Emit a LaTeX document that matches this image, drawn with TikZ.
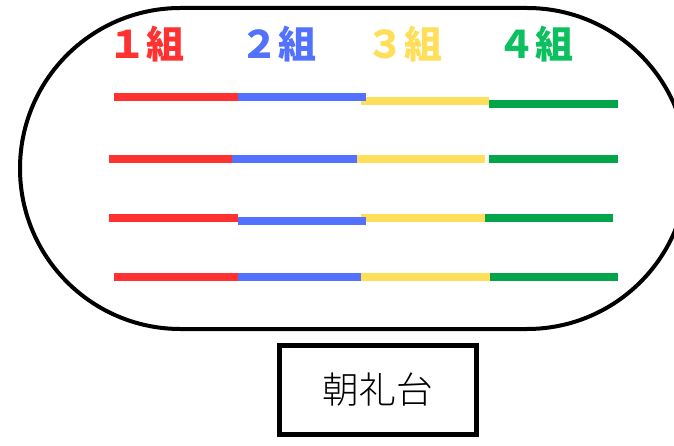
\documentclass[tikz,border=0pt]{standalone}
\usepackage{fontspec}
\newfontfamily\cjk{Noto Sans CJK JP Black}
\newfontfamily\cjklight{Noto Sans CJK JP Light}
\definecolor{cred}{HTML}{FF3131}
\definecolor{cblue}{HTML}{5271FF}
\definecolor{cyellow}{HTML}{FFDE59}
\definecolor{cgreen}{HTML}{03A54A}
\definecolor{cgreentxt}{HTML}{0CBF5F}
\tikzset{
  lane/.style={line width=8pt, line cap=butt},
  grouplabel/.style={inner sep=0pt, font=\cjk\fontsize{38}{38}\selectfont},
  track/.style={draw=black, line width=4pt, rounded corners=160.5pt},
  stand/.style={draw=black, line width=5pt, minimum width=196.8pt, minimum height=88.8pt, inner sep=0pt, font=\cjklight\fontsize{36.7}{36.7}\selectfont}
}
\begin{document}
\begin{tikzpicture}[x=1pt, y=-1pt]
\useasboundingbox (0,0) rectangle (674,446);
\clip (0,0) rectangle (674,446);
\draw[track] (20,8) rectangle (687.5,329);
% labels
\node[grouplabel, text=cred] (g1) at (146.5,44.5) {１組};
\node[grouplabel, text=cblue] (g2) at (278.5,44.5) {２組};
\node[grouplabel, text=cyellow] (g3) at (404,44.5) {３組};
\node[grouplabel, text=cgreentxt] (g4) at (535.5,44.5) {４組};
% row 1
\draw[lane, cred] (114,96.7) -- (241.7,96.7);
\draw[lane, cyellow] (361.3,101.3) -- (489.3,101.3);
\draw[lane, cblue] (237.7,97) -- (365.7,97);
\draw[lane, cgreen] (489.3,104.3) -- (618,104.3);
% row 2
\draw[lane, cred] (109.3,159) -- (232.3,159);
\draw[lane, cblue] (232.3,159) -- (356.7,159);
\draw[lane, cyellow] (356.7,159) -- (485,159);
\draw[lane, cgreen] (489.3,159) -- (618,159);
% row 3
\draw[lane, cred] (109.3,218) -- (237.7,218);
\draw[lane, cyellow] (361.3,218) -- (485,218);
\draw[lane, cblue] (237.7,220.7) -- (366,220.7);
\draw[lane, cgreen] (485,218) -- (613.3,218);
% row 4
\draw[lane, cred] (114,276.8) -- (237.7,276.8);
\draw[lane, cblue] (237.7,276.8) -- (361,276.8);
\draw[lane, cyellow] (361,276.8) -- (489.7,276.8);
\draw[lane, cgreen] (489.7,276.8) -- (617.7,276.8);
% stand
\node[stand] (podium) at (377.9,389.8) {\raisebox{-4pt}{朝礼台}};
\end{tikzpicture}
\end{document}
